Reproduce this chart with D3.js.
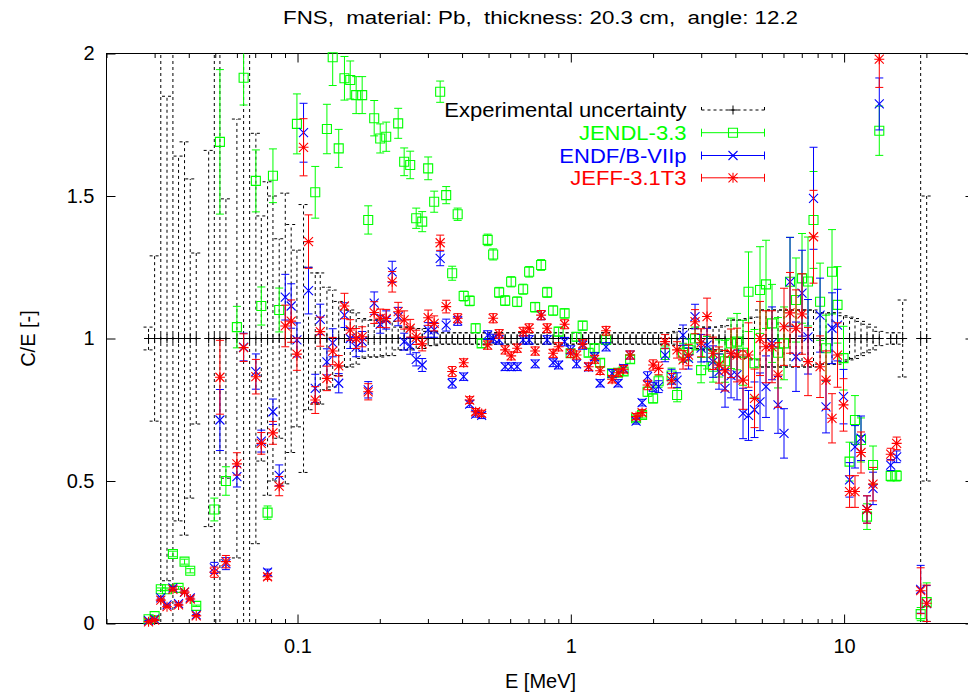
<!DOCTYPE html>
<html><head><meta charset="utf-8">
<script src="https://cdn.jsdelivr.net/npm/d3@7"></script>
<style>
html,body{margin:0;padding:0;background:#fff;}
svg{display:block;}
text{font-family:"Liberation Sans",Arial,Helvetica,sans-serif;}
</style></head><body>
<svg id="chart" width="968" height="697"></svg>
<script>
// ---------------- data ----------------
const energies = [
 0.0285,0.0300,0.0316,0.0333,0.0350,0.0367,0.0386,0.0405,0.0426,0.0473,
 0.0496,0.0520,0.0547,0.0600,0.0635,0.0668,0.0704,0.0737,0.0777,0.0813,
 0.0857,0.0902,0.0948,0.0995,0.1052,0.1097,0.1161,0.1211,0.1281,0.1345,
 0.1415,0.1485,0.1559,0.1639,0.1724,0.1814,0.1908,0.2007,0.2111,0.2220,
 0.2335,0.2456,0.2584,0.2718,0.2859,0.3006,0.3162,0.3326,0.3499,0.3680,
 0.3855,0.4055,0.4265,0.4486,0.4718,0.4963,0.5198,0.5467,0.5751,0.6049,
 0.6362,0.6692,0.7039,0.7403,0.7787,0.8191,0.8615,0.9023,0.9491,0.9983,
 1.050,1.105,1.162,1.222,1.280,1.346,1.416,1.489,1.560,1.648,
 1.733,1.823,1.909,2.000,2.095,2.213,2.337,2.448,2.574,2.697,
 2.848,2.997,3.151,3.315,3.486,3.667,3.857,4.057,4.267,4.469,
 4.701,4.924,5.179,5.448,5.730,6.027,6.340,6.668,7.015,7.378,
 7.728,8.167,8.586,9.032,9.460,9.950,10.47,10.96,11.53,12.13,
 12.76,13.45,14.81,15.57,16.38,19.06,20.05];

// experimental relative uncertainty (half width of the C/E=1 band)
const expUnc = [
 0.04,0.29,1.5,0.85,1.5,0.64,0.69,0.56,0.30,0.66,
 1.5,1.5,0.49,0.77,1.5,1.5,0.72,0.43,0.55,0.50,
 0.35,0.51,0.40,0.31,0.47,0.25,0.23,0.23,0.18,0.17,
 0.13,0.10,0.10,0.09,0.07,0.065,0.065,0.065,0.06,0.06,
 0.04,0.04,0.04,0.035,0.035,0.025,0.025,0.02,0.02,0.02,
 0.02,0.02,0.02,0.02,0.02,0.02,0.02,0.02,0.02,0.02,
 0.02,0.02,0.02,0.02,0.02,0.02,0.02,0.02,0.02,0.02,
 0.02,0.02,0.02,0.02,0.02,0.02,0.02,0.02,0.02,0.02,
 0.02,0.02,0.02,0.02,0.02,0.02,0.02,0.025,0.035,0.035,
 0.035,0.04,0.04,0.04,0.04,0.045,0.065,0.065,0.065,0.07,
 0.075,0.1,0.1,0.1,0.1,0.1,0.1,0.1,0.1,0.1,
 0.1,0.09,0.09,0.09,0.09,0.08,0.075,0.07,0.06,0.05,
 0.04,0.025,0.02,0.02,0.135,1.5,0.5];

const jendl = [
 0.015,0.026,0.12,0.12,0.244,0.125,0.217,0.185,0.062,null,
 0.40,1.69,0.50,1.04,1.915,null,1.553,1.114,0.389,1.571,
 1.10,null,null,1.753,null,null,1.513,null,1.735,1.987,
 1.667,1.913,1.907,1.854,1.854,1.416,1.773,1.702,1.708,null,
 1.755,1.62,1.609,1.422,1.41,1.597,1.48,1.866,1.503,1.229,
 1.436,1.149,1.132,1.036,0.983,1.346,1.295,1.162,1.133,1.199,
 1.129,1.173,1.234,1.11,1.258,1.162,1.098,1.024,1.088,0.948,
 1.006,1.045,0.95,0.966,0.915,0.995,0.878,0.88,0.884,0.927,
 0.72,0.732,0.813,0.79,0.85,0.95,0.87,0.802,0.95,0.96,
 1.0,0.889,0.95,0.901,0.93,0.92,0.983,0.989,0.95,1.164,
 0.913,1.17,1.19,1.053,0.95,0.983,1.199,1.135,1.211,1.2,
 1.416,1.129,0.966,1.234,1.118,0.931,0.568,0.714,0.644,0.375,
 0.556,1.729,0.518,0.518,null,0.033,0.075];

const endf = [
 0.01,0.015,0.09,0.065,0.125,0.07,0.11,0.09,0.03,null,
 0.195,0.714,0.21,0.515,0.97,null,0.884,0.64,0.18,0.743,
 0.52,1.145,1.114,0.995,1.722,1.168,0.825,1.067,0.918,0.985,
 0.843,1.082,1.0,0.97,0.99,0.82,1.124,1.05,1.065,1.234,
 1.077,0.989,0.974,0.927,0.907,1.03,1.03,1.281,1.047,0.843,
 1.062,0.866,0.77,0.735,0.73,1.012,1.0,0.995,0.901,0.901,
 0.901,0.995,0.995,0.911,1.082,0.995,0.915,0.907,0.989,0.96,
 0.911,0.977,0.9,0.936,0.843,0.971,0.878,0.843,0.895,0.942,
 0.71,0.775,0.866,0.83,0.831,0.942,0.866,0.854,1.012,0.93,
 1.077,0.966,0.977,0.919,0.884,0.825,0.87,0.872,0.737,0.73,
 0.75,0.778,0.831,0.983,0.767,0.667,1.199,0.936,1.159,1.006,
 1.492,1.082,0.76,1.036,1.047,0.796,0.504,0.62,0.65,0.40,
 0.474,1.823,0.556,0.585,null,0.12,0.07];

const jeff = [
 0.006,0.012,0.082,0.059,0.12,0.065,0.11,0.086,0.027,null,
 0.18,0.864,0.217,0.56,0.968,null,0.866,0.632,0.164,0.669,
 0.482,1.044,1.061,0.945,1.671,1.34,0.784,1.024,0.86,0.956,
 0.904,1.114,1.03,1.0,1.006,0.813,1.091,1.071,1.07,1.199,
 1.094,1.065,1.036,1.004,0.981,1.073,1.053,1.336,1.112,0.884,
 1.071,0.915,0.784,0.743,0.737,0.977,1.071,1.016,0.96,0.939,
 0.966,1.024,1.036,0.956,1.082,1.036,0.948,0.971,1.05,0.948,
 0.942,0.981,0.901,0.927,0.887,1.027,0.857,0.88,0.892,0.942,
 0.726,0.74,0.837,0.907,0.895,0.989,0.852,0.96,0.925,0.942,
 1.059,0.985,1.077,0.948,0.907,0.887,0.948,0.942,0.854,0.942,
 0.79,1.0,0.971,0.971,0.872,1.041,1.09,1.036,1.086,0.919,
 1.357,0.901,0.854,0.72,0.942,0.767,0.463,0.463,0.6,0.40,
 0.489,1.98,0.594,0.632,null,0.115,0.071];

// relative statistical error of the calculated C/E values
const calcRelErr = [
 0.04,0.04,0.04,0.04,0.04,0.04,0.04,0.04,0.04,0.1,
 0.1,0.15,0.1,0.07,0.05,0.07,0.07,0.06,0.06,0.06,
 0.07,0.07,0.07,0.06,0.06,0.07,0.06,0.05,0.05,0.05,
 0.04,0.04,0.035,0.035,0.035,0.035,0.035,0.03,0.03,0.03,
 0.03,0.03,0.03,0.025,0.025,0.025,0.025,0.02,0.02,0.02,
 0.015,0.015,0.015,0.015,0.015,0.015,0.015,0.015,0.015,0.015,
 0.015,0.015,0.015,0.015,0.015,0.015,0.015,0.015,0.015,0.015,
 0.015,0.015,0.015,0.015,0.015,0.015,0.015,0.015,0.015,0.015,
 0.015,0.015,0.02,0.02,0.025,0.025,0.03,0.03,0.035,0.04,
 0.04,0.05,0.06,0.06,0.07,0.08,0.09,0.1,0.12,0.12,
 0.13,0.13,0.13,0.13,0.13,0.13,0.13,0.13,0.13,0.13,
 0.12,0.12,0.12,0.12,0.12,0.12,0.12,0.12,0.12,0.12,
 0.12,0.05,0.035,0.035,0,0.7,0.9];

const xTickValues = [0.1, 1, 10];
const xTickLabels = ["0.1", "1", "10"];
const yTickValues = [0, 0.5, 1, 1.5, 2];
const yTickLabels = ["0", "0.5", "1", "1.5", "2"];
const seriesNames = ["Experimental uncertainty", "JENDL-3.3", "ENDF/B-VIIp", "JEFF-3.1T3"];
const titleText = "FNS,  material: Pb,  thickness: 20.3 cm,  angle: 12.2";
const xLabel = "E [MeV]";
const yLabel = "C/E [-]";

// ---------------- drawing ----------------
const svg = d3.select("#chart");
const L = 106.5, R = 974.5, T = 53.5, B = 623.5;
const x = d3.scaleLog().domain([0.02, 30]).range([L, R]);
const y = d3.scaleLinear().domain([0, 2]).range([B, T]);
const FONT = '"Liberation Sans",Arial,Helvetica,sans-serif';
const DASH = "3,3";

svg.append("defs").append("clipPath").attr("id", "plotclip")
  .append("rect").attr("x", L).attr("y", T).attr("width", R - L).attr("height", B - T);

// minor tick values
const minor = [];
[0.01, 0.1, 1, 10].forEach(d => { for (let k = 2; k <= 9; k++) { const v = d * k; if (v > 0.02 && v < 30 && ![0.1,1,10].includes(+v.toFixed(6))) minor.push(v); } });
minor.push(0.02);

function styleAxis(g) {
  g.select(".domain").remove();
  g.selectAll("line").attr("stroke", "#000").attr("stroke-width", 1);
  g.attr("font-family", FONT).attr("font-size", 20);
  g.selectAll("text").attr("fill", "#000");
}
// bottom
svg.append("g").attr("transform", `translate(0,${B})`)
  .call(d3.axisBottom(x).tickValues(xTickValues).tickFormat((d, i) => xTickLabels[i]).tickSizeInner(-9).tickSizeOuter(0).tickPadding(15))
  .call(styleAxis);
svg.append("g").attr("transform", `translate(0,${B})`)
  .call(d3.axisBottom(x).tickValues(minor).tickFormat(() => "").tickSizeInner(-4.5).tickSizeOuter(0))
  .call(styleAxis);
// top
svg.append("g").attr("transform", `translate(0,${T})`)
  .call(d3.axisTop(x).tickValues(xTickValues).tickFormat(() => "").tickSizeInner(-9).tickSizeOuter(0))
  .call(styleAxis);
svg.append("g").attr("transform", `translate(0,${T})`)
  .call(d3.axisTop(x).tickValues(minor).tickFormat(() => "").tickSizeInner(-4.5).tickSizeOuter(0))
  .call(styleAxis);
// left / right
svg.append("g").attr("transform", `translate(${L},0)`)
  .call(d3.axisLeft(y).tickValues(yTickValues).tickFormat((d, i) => yTickLabels[i]).tickSizeInner(-9).tickSizeOuter(0).tickPadding(12))
  .call(styleAxis);
svg.append("g").attr("transform", `translate(${R},0)`)
  .call(d3.axisRight(y).tickValues(yTickValues).tickFormat(() => "").tickSizeInner(-9).tickSizeOuter(0))
  .call(styleAxis);

// frame
svg.append("rect").attr("x", L).attr("y", T).attr("width", R - L).attr("height", B - T)
  .attr("fill", "none").attr("stroke", "#000").attr("stroke-width", 1);

// titles
svg.append("text").attr("x", (L + R) / 2).attr("y", 24).attr("text-anchor", "middle")
  .attr("font-size", 17.5).attr("textLength", 515).attr("lengthAdjust", "spacingAndGlyphs")
  .style("white-space", "pre").attr("fill", "#000").text(titleText);
svg.append("text").attr("x", (L + R) / 2).attr("y", 688).attr("text-anchor", "middle")
  .attr("font-size", 20).attr("fill", "#000").text(xLabel);
svg.append("text").attr("transform", `translate(35,${y(1)}) rotate(-90)`).attr("text-anchor", "middle")
  .attr("font-size", 20).attr("fill", "#000").text(yLabel);

const plot = svg.append("g");
const bars = plot.append("g").attr("clip-path", "url(#plotclip)");

// experimental uncertainty
const expRows = energies.map((e, i) => ({ e, u: expUnc[i] }));
const expG = bars.append("g").attr("stroke", "#000").attr("stroke-width", 1).attr("stroke-dasharray", DASH).attr("fill", "none");
expG.selectAll("path").data(expRows).join("path")
  .attr("d", d => {
    const cx = x(d.e), y1 = y(1 + d.u), y0 = y(1 - d.u);
    return `M${cx},${y0}V${y1}M${cx - 5},${y1}H${cx + 5}M${cx - 5},${y0}H${cx + 5}`;
  });
plot.append("g").attr("stroke", "#000").attr("stroke-width", 1).selectAll("path").data(expRows).join("path")
  .attr("d", d => { const cx = x(d.e), cy = y(1); return `M${cx - 4.5},${cy}H${cx + 4.5}M${cx},${cy - 4.5}V${cy + 4.5}`; });

const markers = {
  square: "M-4.5,-4.5H4.5V4.5H-4.5Z",
  cross: "M-4.5,-4.5L4.5,4.5M-4.5,4.5L4.5,-4.5",
  star: "M-4.5,-4.5L4.5,4.5M-4.5,4.5L4.5,-4.5M-5,0H5M0,-5V5"
};
const series = [
  { name: seriesNames[1], vals: jendl, color: "#00ff00", marker: markers.square },
  { name: seriesNames[2], vals: endf, color: "#0000ff", marker: markers.cross },
  { name: seriesNames[3], vals: jeff, color: "#ff0000", marker: markers.star }
];
series.forEach(s => {
  const rows = energies.map((e, i) => ({ e, v: s.vals[i], err: s.vals[i] == null ? 0 : s.vals[i] * calcRelErr[i] }))
    .filter(d => d.v != null);
  const g = plot.append("g");
  g.append("g").attr("clip-path", "url(#plotclip)").attr("stroke", s.color).attr("stroke-width", 1).attr("fill", "none")
    .selectAll("path").data(rows.filter(d => d.err > 0)).join("path")
    .attr("d", d => {
      const cx = x(d.e), y1 = y(d.v + d.err), y0 = y(d.v - d.err);
      return `M${cx},${y0}V${y1}M${cx - 4},${y1}H${cx + 4}M${cx - 4},${y0}H${cx + 4}`;
    });
  g.append("g").attr("stroke", s.color).attr("stroke-width", 1.1).attr("fill", "none")
    .selectAll("path").data(rows.filter(d => d.v >= 0 && d.v <= 2)).join("path")
    .attr("transform", d => `translate(${x(d.e)},${y(d.v)})`).attr("d", s.marker);
});

// legend
const legX1 = 701.5, legX2 = 764.5, legM = 733, legText = 686.5;
const legY = [110, 132.7, 155.5, 177.8];
const leg = svg.append("g");
seriesNames.forEach((n, i) => {
  const col = i === 0 ? "#000" : series[i - 1].color;
  const t = leg.append("text").attr("x", legText).attr("y", legY[i] + 7).attr("text-anchor", "end")
    .attr("font-size", 20).attr("fill", col).text(n);
  const w = t.node().getComputedTextLength();
  t.attr("textLength", w * 1.1).attr("lengthAdjust", "spacingAndGlyphs");
  if (i === 0) {
    leg.append("path").attr("d", `M${legX1},${legY[i]}H${legX2}M${legX1},${legY[i] - 3}V${legY[i] + 3}M${legX2},${legY[i] - 3}V${legY[i] + 3}`)
      .attr("stroke", "#000").attr("stroke-dasharray", DASH).attr("fill", "none");
    leg.append("path").attr("d", `M${legM - 4.5},${legY[i]}H${legM + 4.5}M${legM},${legY[i] - 4.5}V${legY[i] + 4.5}`)
      .attr("stroke", "#000").attr("fill", "none");
  } else {
    leg.append("path").attr("d", `M${legX1},${legY[i]}H${legX2}M${legX1},${legY[i] - 4}V${legY[i] + 4}M${legX2},${legY[i] - 4}V${legY[i] + 4}`)
      .attr("stroke", col).attr("fill", "none");
    leg.append("path").attr("transform", `translate(${legM},${legY[i]})`).attr("d", series[i - 1].marker)
      .attr("stroke", col).attr("stroke-width", 1.1).attr("fill", "none");
  }
});
</script>
</body></html>
